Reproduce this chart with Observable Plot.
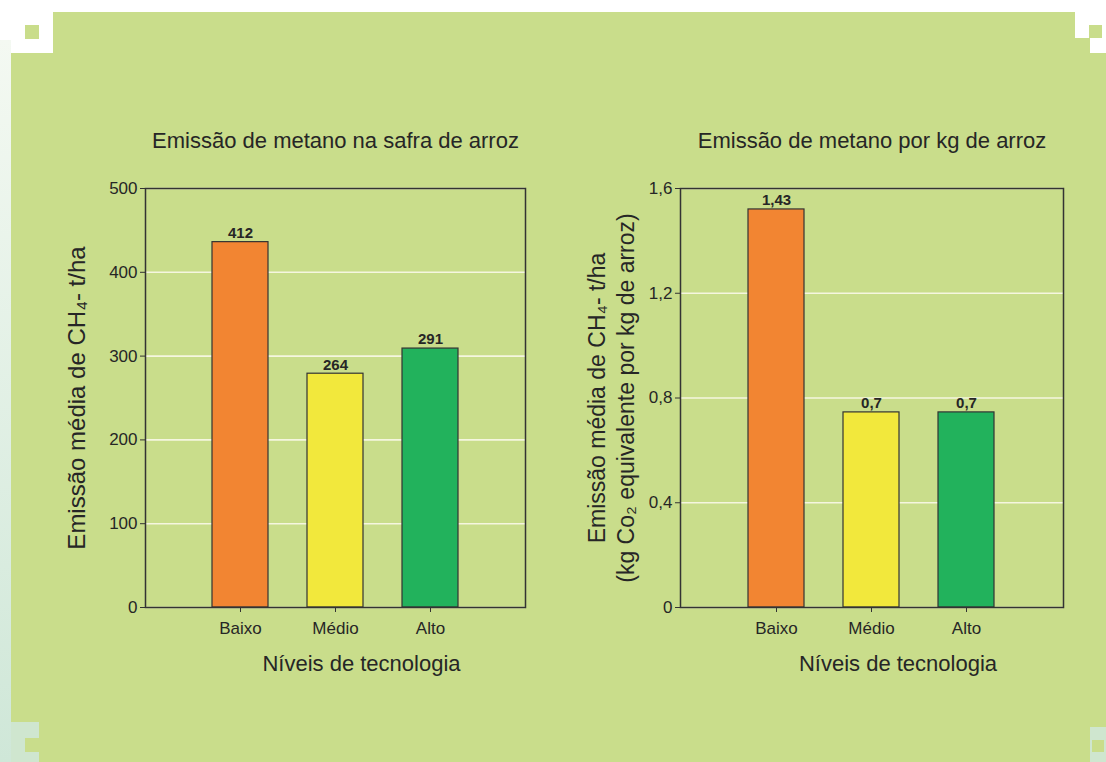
<!DOCTYPE html>
<html>
<head>
<meta charset="utf-8">
<script src="https://cdn.jsdelivr.net/npm/d3@7"></script>
<script src="https://cdn.jsdelivr.net/npm/@observablehq/plot@0.6"></script>
<style>
  html, body { margin: 0; padding: 0; background: #ffffff; }
  #page { position: relative; width: 1106px; height: 762px; overflow: hidden; background: #ffffff; font-family: "Liberation Sans", Arial, sans-serif; }
  .blk { position: absolute; }
  .chart { position: absolute; top: 0; }
</style>
</head>
<body>
<div id="page">
  <div class="blk" style="left:0;top:40px;width:11px;height:722px;background:linear-gradient(to bottom,#f4f9f2,#cfe7d8);"></div>
  <div class="blk" style="left:11px;top:12px;width:1095px;height:750px;background:#c9dd8b;"></div>
  <div class="blk" style="left:11px;top:12px;width:42px;height:41px;background:#ffffff;"></div>
  <div class="blk" style="left:25px;top:25px;width:14px;height:14px;background:#c9dd8b;"></div>
  <div class="blk" style="left:1075px;top:0;width:31px;height:38px;background:#ffffff;"></div>
  <div class="blk" style="left:1090px;top:38px;width:16px;height:15px;background:#ffffff;"></div>
  <div class="blk" style="left:1089px;top:25px;width:13px;height:13px;background:#c9dd8b;"></div>
  <div class="blk" style="left:11px;top:722px;width:28px;height:40px;background:#cfe6cf;"></div>
  <div class="blk" style="left:25px;top:738px;width:14px;height:14px;background:#c9dd8b;"></div>
  <div class="blk" style="left:1090px;top:727px;width:16px;height:35px;background:#cfe6cf;"></div>
  <div class="blk" style="left:1092px;top:740px;width:12px;height:12px;background:#c9dd8b;"></div>
  <div id="left" class="chart" style="left:0;"></div>
  <div id="right" class="chart" style="left:553px;"></div>
</div>
<script>
// ---- data ----
const categories = ["Baixo", "Médio", "Alto"];
const barColors = ["#f28532", "#f2e83c", "#22b25c"];

// Chart 1: Emissão de metano na safra de arroz (bar heights as drawn, labels as printed)
const emissaoSafra = [436, 279, 309];
const rotulosSafra = ["412", "264", "291"];
const ticksSafra = [0, 100, 200, 300, 400, 500];

// Chart 2: Emissão de metano por kg de arroz
const emissaoKg = [1.52, 0.745, 0.745];
const rotulosKg = ["1,43", "0,7", "0,7"];
const ticksKg = [0, 0.4, 0.8, 1.2, 1.6];

const titulo1 = "Emissão de metano na safra de arroz";
const titulo2 = "Emissão de metano por kg de arroz";
const eixoX = "Níveis de tecnologia";
const eixoY1 = "Emissão média de CH₄- t/ha";
const eixoY2 = "Emissão média de CH₄- t/ha\n(kg Co₂ equivalente por kg de arroz)";

const font = "'Liberation Sans', Arial, sans-serif";
const ink = "#262626";

function makeChart({values, labels, ticks, domain, title, ylabel, yFont, yLine, fmt, marginLeft, marginRight}) {
  const data = categories.map((c, i) => ({cat: c, value: values[i], label: labels[i]}));
  return Plot.plot({
    width: 553,
    height: 762,
    marginLeft,
    marginRight,
    marginTop: 188,
    marginBottom: 155,
    style: {background: "transparent", fontFamily: font, color: ink, overflow: "visible"},
    x: {domain: categories, paddingInner: 0.41, paddingOuter: 0.705, label: null},
    y: {domain, label: null},
    color: {domain: categories, range: barColors},
    marks: [
      Plot.gridY(ticks, {stroke: "#f5f6df", strokeOpacity: 1, strokeWidth: 1.6}),
      Plot.barY(data, {x: "cat", y: "value", fill: "cat", stroke: "#333333", strokeWidth: 1.2}),
      Plot.text(data, {x: "cat", y: "value", text: "label", dy: -9, fontWeight: "bold", fontSize: 15, fill: ink}),
      Plot.axisY({ticks, tickFormat: fmt, tickSize: 5, tickPadding: 3, fontSize: 17, label: null, stroke: "#333333"}),
      Plot.axisX({tickSize: 5, tickPadding: 9, fontSize: 17, label: null, stroke: "#333333"}),
      Plot.frame({stroke: "#333333", strokeWidth: 1.5}),
      Plot.text([title], {text: d => d, frameAnchor: "top", lineAnchor: "middle", dy: -48, fontSize: 22, fill: ink}),
      Plot.text([eixoX], {text: d => d, frameAnchor: "bottom", lineAnchor: "middle", dy: 56, dx: 26, fontSize: 22, fill: ink}),
      Plot.text([ylabel], {text: d => d, frameAnchor: "left", textAnchor: "middle", lineAnchor: "middle", rotate: -90, dx: -70, fontSize: yFont, lineHeight: yLine, fill: ink})
    ]
  });
}

document.getElementById("left").append(makeChart({
  values: emissaoSafra, labels: rotulosSafra, ticks: ticksSafra, domain: [0, 500],
  title: titulo1, ylabel: eixoY1, yFont: 24, yLine: 1.2, fmt: d => String(d), marginLeft: 145, marginRight: 28
}));
document.getElementById("right").append(makeChart({
  values: emissaoKg, labels: rotulosKg, ticks: ticksKg, domain: [0, 1.6],
  title: titulo2, ylabel: eixoY2, yFont: 23, yLine: 1.22, fmt: d => String(d).replace(".", ","), marginLeft: 127, marginRight: 43
}));
</script>
</body>
</html>
